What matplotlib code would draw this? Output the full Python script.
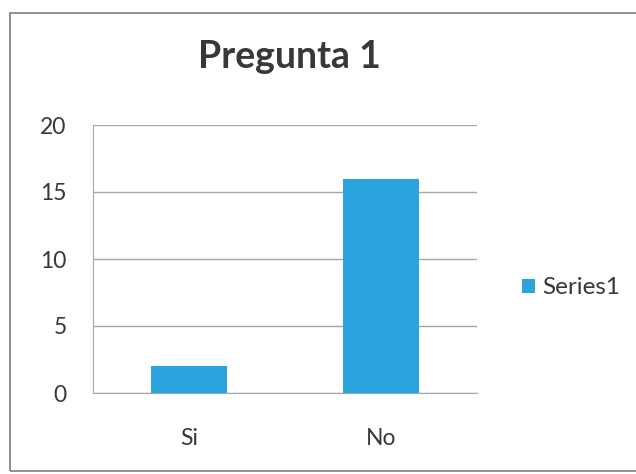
import matplotlib
matplotlib.use("Agg")
import matplotlib.pyplot as plt
from matplotlib.patches import Rectangle

categories = ["Si", "No"]
values = [2, 16]
series_name = "Series1"
yticks = [0, 5, 10, 15, 20]
title = "Pregunta 1"

plt.rcParams['font.family'] = ['Lato', 'DejaVu Sans']

W, H = 636, 474
fig = plt.figure(figsize=(W / 100, H / 100), dpi=100)
fig.patch.set_facecolor("white")

# chart frame
fig.patches.append(Rectangle((10 / W, 1 - 471 / H), (W + 10) / W, (471 - 13) / H,
                             transform=fig.transFigure, fill=False,
                             edgecolor="#7f8a94", linewidth=1.3))

left, right, top, bottom = 93, 477, 125, 393
ax = fig.add_axes([left / W, 1 - bottom / H, (right - left) / W, (bottom - top) / H])

text_c = "#383838"
bar_color = "#2aa3df"
x = range(len(categories))
ax.bar(x, values, width=0.4, color=bar_color, label=series_name, zorder=3)
ax.set_xlim(-0.5, len(categories) - 0.5)
ax.set_ylim(0, 20)
ax.set_yticks(yticks)
ax.set_xticks(list(x))
ax.set_xticklabels(categories)

grid_c = "#9aaab8"
ax.grid(axis="y", color=grid_c, linewidth=1.0, zorder=0)
for s in ["top", "right"]:
    ax.spines[s].set_visible(False)
ax.spines["left"].set_color(grid_c)
ax.spines["bottom"].set_color(grid_c)
ax.tick_params(axis="both", length=0, labelsize=16.5, colors=text_c)
ax.tick_params(axis="y", pad=19)
ax.tick_params(axis="x", pad=25)

fig.text(289 / W, 1 - 57 / H, title, ha="center", va="center",
         fontsize=27, fontweight="bold", color=text_c)

leg = ax.legend(loc="center left", bbox_to_anchor=(505 / W, 1 - 288 / H),
                bbox_transform=fig.transFigure, frameon=False, fontsize=17.5,
                handlelength=0.55, handleheight=0.55, handletextpad=0.3,
                borderpad=0.2)
for t in leg.get_texts():
    t.set_color(text_c)

fig.savefig("out.png", dpi=100)
